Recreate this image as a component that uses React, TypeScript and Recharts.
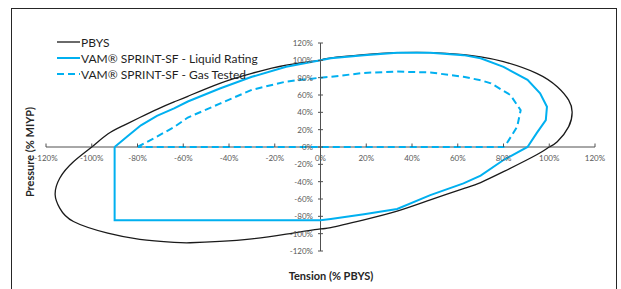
import React from "react";
import {
  LineChart,
  Line,
  XAxis,
  YAxis,
  ReferenceLine,
  ReferenceDot,
  Legend,
} from "recharts";

// tick values (both axes, in %)
const tensionTicks = [-120, -100, -80, -60, -40, -20, 0, 20, 40, 60, 80, 100, 120];
const pressureTicks = [-120, -100, -80, -60, -40, -20, 0, 20, 40, 60, 80, 100, 120];

const seriesNames = ["PBYS", "VAM® SPRINT-SF - Liquid Rating", "VAM® SPRINT-SF - Gas Tested"];

// PBYS envelope (black), starting at the top crossing
const pbysTension = [
  0, 4, 19, 33.5, 48, 62.5, 70, 80, 94.5, 103.5, 108.5, 110, 108.5, 103.5, 100, 94.5, 80,
  70, 62.5, 48, 33.5, 19, 4.5, 0, -15, -30, -44, -57, -64, -79, -93, -108, -114, -116,
  -114, -108, -100, -93, -86, -79, -71, -64, -58, -44, -30, -15, 0,
];
const pbysPressure = [
  100, 102.5, 106.5, 108.8, 109, 106.5, 104, 98.5, 85, 69.5, 54, 40.5, 23.5, 6, 0, -9,
  -28.5, -41, -48, -61, -74, -84, -93, -94.5, -100.5, -106, -109, -110.5, -110, -106.5,
  -99.5, -86, -70.5, -55, -36, -17, 0, 15, 25, 34, 44, 52, 58.5, 73.5, 85, 94.5, 100,
];

// VAM SPRINT-SF liquid rating (solid blue)
const liquidTension = [
  -90, -84.5, -78.5, -71.5, -64, -58, -44, -30, -15, 0, 4.5, 19, 33.5, 48, 62.5, 70, 80,
  90.5, 96, 99, 98.5, 94.5, 90.5, 80, 70, 62.5, 48, 33.5, 19, 4.5, 0, -90, -90,
];
const liquidPressure = [
  0, 12, 25, 36, 44.5, 52.5, 67.5, 81, 92.5, 100, 102.3, 106, 108.8, 108.8, 106, 102.3, 92.5,
  77.5, 62, 46.5, 31, 16, 0, -15, -33, -42, -55.5, -71.5, -77.5, -83, -84.5, -84.5, 0,
];

// VAM SPRINT-SF gas tested (dashed blue)
const gasTension = [
  -80, -71.5, -64, -58, -44, -30, -15, 0, 4.5, 19, 33.5, 48, 62.5, 70, 74.5, 83, 87.5, 86,
  81.5, 80, -80,
];
const gasPressure = [
  0, 12, 23, 34, 50, 66, 75.5, 80, 81, 85.5, 87, 86, 81, 77, 73.5, 60, 42.5, 23.5,
  4.5, 0, 0,
];

const toPoints = (xs: number[], ys: number[]) => xs.map((x, i) => ({ x, y: ys[i] }));

const pbysData = toPoints(pbysTension, pbysPressure);
const liquidData = toPoints(liquidTension, liquidPressure);
const gasData = toPoints(gasTension, gasPressure);

const FONT = "Lato, 'Open Sans', sans-serif";
const AXIS = "#505050";
const TICK_TEXT = "#595959";
const BLUE = "#00B0F0";

const renderLegend = (props: any) => {
  const items = [...(props.payload || [])].sort(
    (a: any, b: any) => seriesNames.indexOf(a.value) - seriesNames.indexOf(b.value)
  );
  return (
    <div style={{ fontFamily: FONT, fontSize: 12, color: "#1f1f1f" }}>
      {items.map((e: any, i: number) => (
        <div
          key={i}
          style={{ display: "flex", alignItems: "center", height: 16.2, whiteSpace: "nowrap" }}
        >
          <svg width={23} height={6} style={{ marginRight: 1 }}>
            <line
              x1={0}
              y1={3}
              x2={23}
              y2={3}
              stroke={e.color}
              strokeWidth={e.payload?.strokeWidth ?? 2}
              strokeDasharray={e.payload?.strokeDasharray}
            />
          </svg>
          <span>{e.value}</span>
        </div>
      ))}
    </div>
  );
};

const xTick = (value: number) => (p: any) => (
  <g>
    <line x1={p.cx} y1={p.cy - 3.5} x2={p.cx} y2={p.cy} stroke={AXIS} strokeWidth={1} />
    <text
      x={p.cx}
      y={p.cy + 11}
      textAnchor="middle"
      dominantBaseline="central"
      fontFamily={FONT}
      fontSize={8}
      fill={TICK_TEXT}
    >
      {`${value}%`}
    </text>
  </g>
);

const yTick = (value: number) => (p: any) => (
  <g>
    <line x1={p.cx - 2.5} y1={p.cy} x2={p.cx + 2.5} y2={p.cy} stroke={AXIS} strokeWidth={1} />
    <text
      x={p.cx - 7.5}
      y={p.cy}
      textAnchor="end"
      dominantBaseline="central"
      fontFamily={FONT}
      fontSize={8}
      fill={TICK_TEXT}
    >
      {`${value}%`}
    </text>
  </g>
);

export default function App() {
  return (
    <div
      style={{
        position: "absolute",
        left: 0,
        top: 0,
        width: 621,
        height: 289,
        overflow: "hidden",
        background: "#fff",
      }}
    >
      <div
        style={{
          position: "absolute",
          left: 11,
          top: 8,
          width: 606,
          height: 300,
          border: "1.5px solid #262626",
          boxSizing: "border-box",
        }}
      />
      <div style={{ position: "absolute", left: 0, top: 0 }}>
        <LineChart
          width={621}
          height={289}
          margin={{ top: 43, right: 26, bottom: 38, left: 46 }}
        >
          <XAxis
            type="number"
            dataKey="x"
            domain={[-120, 120]}
            ticks={tensionTicks}
            allowDataOverflow
            hide
          />
          <YAxis
            type="number"
            dataKey="y"
            domain={[-120, 120]}
            ticks={pressureTicks}
            allowDataOverflow
            hide
          />
          <ReferenceLine y={0} stroke={AXIS} strokeWidth={1} />
          <ReferenceLine x={0} stroke={AXIS} strokeWidth={1} />
          {tensionTicks.map((t) => (
            <ReferenceDot key={`xt${t}`} x={t} y={0} r={0} shape={xTick(t)} />
          ))}
          {pressureTicks.map((t) => (
            <ReferenceDot key={`yt${t}`} x={0} y={t} r={0} shape={yTick(t)} />
          ))}
          <Line
            data={pbysData}
            dataKey="y"
            name={seriesNames[0]}
            type="natural"
            stroke="#1a1a1a"
            strokeWidth={1.3}
            dot={false}
            isAnimationActive={false}
          />
          <Line
            data={liquidData}
            dataKey="y"
            name={seriesNames[1]}
            type="linear"
            stroke={BLUE}
            strokeWidth={2}
            dot={false}
            isAnimationActive={false}
          />
          <Line
            data={gasData}
            dataKey="y"
            name={seriesNames[2]}
            type="linear"
            stroke={BLUE}
            strokeWidth={2}
            strokeDasharray="7 4"
            dot={false}
            isAnimationActive={false}
          />
          <Legend
            layout="vertical"
            align="center"
            verticalAlign="middle"
            wrapperStyle={{ left: 57, top: 34, width: 260, height: 50 }}
            content={renderLegend}
          />
        </LineChart>
      </div>
      <div
        style={{
          position: "absolute",
          left: 29,
          top: 152,
          transform: "translate(-50%, -50%) rotate(-90deg)",
          fontFamily: FONT,
          fontWeight: 700,
          fontSize: 11,
          color: "#262626",
          whiteSpace: "nowrap",
        }}
      >
        Pressure (% MIYP)
      </div>
      <div
        style={{
          position: "absolute",
          left: 331,
          top: 275,
          transform: "translate(-50%, -50%)",
          fontFamily: FONT,
          fontWeight: 700,
          fontSize: 11,
          color: "#262626",
          whiteSpace: "nowrap",
        }}
      >
        Tension (% PBYS)
      </div>
    </div>
  );
}
